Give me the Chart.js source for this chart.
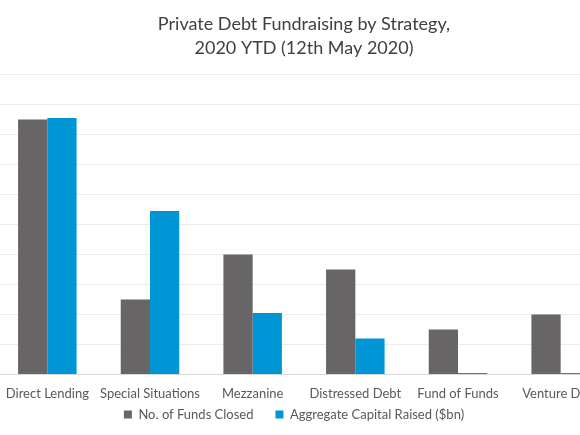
<!DOCTYPE html>
<html>
<head>
<meta charset="utf-8">
<script src="https://cdn.jsdelivr.net/npm/chart.js@4"></script>
<style>
  html, body { margin: 0; padding: 0; background: #fff; overflow: hidden; }
  #wrap { position: absolute; left: -50px; top: 0; width: 676px; height: 435px; }
</style>
</head>
<body>
<div id="wrap"><canvas id="canv"></canvas></div>
<script>
// categories and series (axis 0..20 step 2)
var strategies = ['Direct Lending', 'Special Situations', 'Mezzanine', 'Distressed Debt', 'Fund of Funds', 'Venture Debt'];
var fundsClosed = [17, 5, 8, 7, 3, 4];
var capitalRaised = [17.1, 10.9, 4.1, 2.4, 0.1, 0.1];
var yTicks = [0, 2, 4, 6, 8, 10, 12, 14, 16, 18, 20];

var data_chart = {
  labels: strategies,
  datasets: [{
    label: 'No. of Funds Closed',
    data: fundsClosed,
    backgroundColor: '#676565',
    borderWidth: 0
  }, {
    label: 'Aggregate Capital Raised ($bn)',
    data: capitalRaised,
    backgroundColor: '#0096d6',
    borderWidth: 0
  }]
};

// extra room after each legend entry (the default padding also sets the legend height)
var legendGap = ['      ', '      '];

var config_chart = {
  type: 'bar',
  data: data_chart,
  options: {
    responsive: true,
    maintainAspectRatio: false,
    animation: false,
    layout: { padding: { left: 46, right: 14, top: 12, bottom: 4 } },
    datasets: { bar: { categoryPercentage: 0.57, barPercentage: 1 } },
    plugins: {
      title: {
        display: true,
        text: ['Private Debt Fundraising by Strategy,', '2020 YTD (12th May 2020)'],
        color: '#404040',
        font: { family: 'Lato', size: 18, weight: 'normal', lineHeight: 1.35 },
        padding: { top: 0, bottom: 14 }
      },
      legend: {
        position: 'bottom',
        labels: {
          color: '#595959',
          font: { family: 'Lato', size: 13 },
          boxWidth: 8,
          boxHeight: 8,
          padding: 2,
          generateLabels: function (chart) {
            var items = Chart.defaults.plugins.legend.labels.generateLabels(chart);
            items.forEach(function (it, i) { it.text = it.text + legendGap[i]; });
            return items;
          }
        }
      },
      tooltip: { enabled: false }
    },
    scales: {
      x: {
        grid: { display: false },
        border: { color: '#d9d9d9' },
        ticks: { color: '#595959', font: { family: 'Lato', size: 13 }, maxRotation: 0, autoSkip: false, padding: 4 }
      },
      y: {
        min: 0,
        max: 20,
        afterBuildTicks: function (axis) { axis.ticks = yTicks.map(function (v) { return { value: v }; }); },
        grid: { color: '#ececec', lineWidth: 1, drawTicks: false },
        border: { display: false },
        ticks: { display: false }
      }
    }
  }
};

var myChart = new Chart(document.getElementById('canv'), config_chart);
</script>
</body>
</html>
